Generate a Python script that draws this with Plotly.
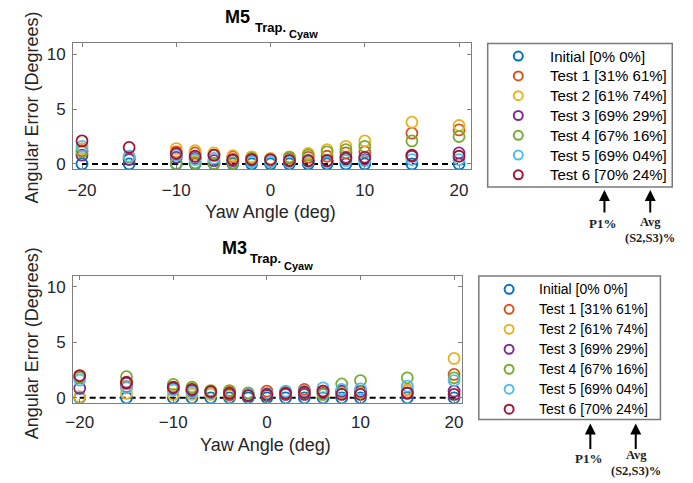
import plotly.graph_objects as go

W, H = 693, 483

yaw = [-20, -15, -10, -8, -6, -4, -2, 0, 2, 4, 6, 8, 10, 15, 20]

labels = ["Initial [0% 0%]", "Test 1 [31% 61%]", "Test 2 [61% 74%]", "Test 3 [69% 29%]",
          "Test 4 [67% 16%]", "Test 5 [69% 04%]", "Test 6 [70% 24%]"]
colors = ["#0072BD", "#D95319", "#EDB120", "#7E2F8E", "#77AC30", "#4DBEEE", "#A2142F"]

# M5 (top panel)
m5_initial = [0, 0, 0, 0, 0, 0, 0, 0, 0, 0, 0, 0, 0, 0, 0]
m5_test1 = [1.2, 0.5, 1.1, 1.0, 0.8, 0.65, 0.5, 0.4, 0.5, 0.6, 0.7, 1.0, 1.1, 2.8, 3.1]
m5_test2 = [1.4, 0.55, 1.4, 1.2, 1.0, 0.75, 0.65, 0.5, 0.65, 0.95, 1.3, 1.6, 2.1, 3.8, 3.5]
m5_test3 = [0.8, 0.4, 0.6, 0.5, 0.3, 0.3, 0.3, 0.3, 0.3, 0.3, 0.3, 0.6, 0.4, 0.7, 1.0]
m5_test4 = [1.1, 0.65, 0.05, 0.1, 0.05, 0.1, 0.5, 0.3, 0.6, 0.8, 1.1, 1.3, 1.6, 2.1, 2.5]
m5_test5 = [1.6, 0.7, 0.8, 0.4, 0.5, 0.4, 0.2, 0.2, 0.2, 0.2, 0.2, 0.3, 0.3, 0.4, 0.4]
m5_test6 = [2.1, 1.5, 0.95, 0.7, 0.8, 0.4, 0.4, 0.4, 0.3, 0.3, 0.3, 0.5, 0.6, 0.8, 0.7]

# M3 (bottom panel)
m3_initial = [0, 0, 0, 0, 0, 0, 0, 0, 0, 0, 0, 0, 0, 0, 0]
m3_test1 = [1.9, 1.0, 0.9, 0.7, 0.6, 0.5, 0.3, 0.6, 0.5, 0.75, 0.6, 0.5, 0.5, 0.7, 2.1]
m3_test2 = [0.1, 0.4, 0.3, 0.3, 0.3, 0.2, 0.2, 0.3, 0.3, 0.3, 0.3, 0.5, 0.4, 0.7, 3.55]
m3_test3 = [0.85, 1.3, 0.8, 0.6, 0.5, 0.3, 0.2, 0.2, 0.3, 0.3, 0.4, 0.6, 0.6, 0.4, 0.6]
m3_test4 = [1.8, 1.9, 1.2, 0.95, 0.65, 0.65, 0.45, 0.3, 0.4, 0.5, 0.3, 1.25, 1.55, 1.8, 1.8]
m3_test5 = [1.6, 0.9, 0.7, 0.5, 0.5, 0.4, 0.3, 0.4, 0.6, 0.6, 0.9, 0.75, 0.8, 1.05, 1.55]
m3_test6 = [2.0, 1.4, 0.95, 0.75, 0.55, 0.4, 0.2, 0.3, 0.4, 0.5, 0.6, 0.3, 0.3, 0.45, 0.3]

m5_series = [m5_initial, m5_test1, m5_test2, m5_test3, m5_test4, m5_test5, m5_test6]
m3_series = [m3_initial, m3_test1, m3_test2, m3_test3, m3_test4, m3_test5, m3_test6]

ref_x = [-20, 20.5]
ref_y = [0, 0]

x_ticks = [-20, -10, 0, 10, 20]
y_ticks = [0, 5, 10]

FONT = "Liberation Sans, Arial, sans-serif"
SERIF = "Liberation Serif, Times New Roman, serif"
AXC = "#262626"


def px(x):
    return x / W


def py(y):
    return 1 - y / H


fig = go.Figure()

for series, xa, ya in [(m5_series, "x", "y"), (m3_series, "x2", "y2")]:
    fig.add_trace(go.Scatter(x=ref_x, y=ref_y, mode="lines", xaxis=xa, yaxis=ya,
                             line=dict(color="black", width=2, dash="6px,4px"),
                             showlegend=False, hoverinfo="skip"))
    for name, col, vals in zip(labels, colors, series):
        fig.add_trace(go.Scatter(x=yaw, y=vals, mode="markers", name=name, xaxis=xa, yaxis=ya,
                                 marker=dict(symbol="circle-open", size=11, color=col,
                                             line=dict(width=1.8, color=col)),
                                 showlegend=False))

axis_common = dict(showline=True, mirror="ticks", linecolor="#7f7f7f", linewidth=1,
                   ticks="inside", ticklen=4, tickcolor="#7f7f7f", showgrid=False,
                   zeroline=False, tickfont=dict(family=FONT, size=17, color=AXC))

fig.update_layout(
    width=W, height=H,
    margin=dict(l=0, r=0, t=0, b=0),
    paper_bgcolor="white", plot_bgcolor="white",
    showlegend=False,
    xaxis=dict(domain=[px(66), px(469)], range=[-20.94, 21.26], tickvals=x_ticks,
               anchor="y", ticklabelstandoff=5, **axis_common),
    yaxis=dict(domain=[py(171), py(43)], range=[-0.48, 11.05], tickvals=y_ticks,
               anchor="x", ticklabelstandoff=3, **axis_common),
    xaxis2=dict(domain=[px(66), px(460)], range=[-20.7, 20.85], tickvals=x_ticks,
                anchor="y2", ticklabelstandoff=4, **axis_common),
    yaxis2=dict(domain=[py(407), py(279)], range=[-0.45, 10.96], tickvals=y_ticks,
                anchor="x2", ticklabelstandoff=3, **axis_common),
)

annotations = []
shapes = []

# Titles
for main, mx, my, tx, ty, cx, cy in [("M5", 233, 17, 248, 28, 283, 34),
                                      ("M3", 229.5, 251, 243, 261, 278, 269)]:
    annotations.append(dict(text="<b>%s</b>" % main, x=px(mx), y=py(my), xref="paper", yref="paper",
                            xanchor="center", yanchor="middle", showarrow=False,
                            font=dict(family=FONT, size=18, color="black")))
    annotations.append(dict(text="<b>Trap.</b>", x=px(tx), y=py(ty), xref="paper", yref="paper",
                            xanchor="left", yanchor="middle", showarrow=False,
                            font=dict(family=FONT, size=13, color="black")))
    annotations.append(dict(text="<b>Cyaw</b>", x=px(cx), y=py(cy), xref="paper", yref="paper",
                            xanchor="left", yanchor="middle", showarrow=False,
                            font=dict(family=FONT, size=11, color="black")))

# Axis titles
for (xx, xy), (yx, yy) in [((266, 214), (24.5, 108.5)), ((261, 450), (24.5, 346.7))]:
    annotations.append(dict(text="Yaw Angle (deg)", x=px(xx), y=py(xy), xref="paper", yref="paper",
                            xanchor="center", yanchor="middle", showarrow=False,
                            font=dict(family=FONT, size=18, color=AXC)))
    annotations.append(dict(text="Angular Error (Degrees)", x=px(yx), y=py(yy), xref="paper",
                            yref="paper", xanchor="center", yanchor="middle", showarrow=False,
                            textangle=-90, font=dict(family=FONT, size=18, color=AXC)))

# Legend boxes (drawn)
legends = [dict(box=(486, 44, 673, 189), mx=517, tx=547, y0=56.7, dy=20.0, fs=15),
           dict(box=(477, 279, 661, 424), mx=507.7, tx=536, y0=292.3, dy=20.2, fs=14)]
for lg in legends:
    x0, y0, x1, y1 = lg["box"]
    shapes.append(dict(type="rect", xref="paper", yref="paper", x0=px(x0), x1=px(x1),
                       y0=py(y1), y1=py(y0), line=dict(color="#7a7a7a", width=1.5),
                       fillcolor="rgba(0,0,0,0)"))
    for i, (name, col) in enumerate(zip(labels, colors)):
        yy = lg["y0"] + i * lg["dy"]
        shapes.append(dict(type="circle", xref="paper", yref="paper", xsizemode="pixel",
                           ysizemode="pixel", xanchor=px(lg["mx"]), yanchor=py(yy),
                           x0=-4.5, x1=4.5, y0=-4.5, y1=4.5, line=dict(color=col, width=2)))
        annotations.append(dict(text=name, x=px(lg["tx"]), y=py(yy), xref="paper", yref="paper",
                                xanchor="left", yanchor="middle", showarrow=False,
                                font=dict(family=FONT, size=lg["fs"], color="black")))

# Arrows with P1% / Avg labels
for a1x, a2x, ytop, ylen, p1y, avgy in [(604.3, 650.7, 192, 24, 226, 232),
                                        (590, 636, 428, 27, 463, 467.5)]:
    for ax_ in (a1x, a2x):
        annotations.append(dict(text="", x=px(ax_), y=py(ytop), xref="paper", yref="paper",
                                ax=0, ay=ylen, showarrow=True, arrowhead=2, arrowsize=1.1,
                                arrowwidth=2, arrowcolor="black"))
    annotations.append(dict(text="<b>P1%</b>", x=px(a1x - 2), y=py(p1y), xref="paper", yref="paper",
                            xanchor="center", yanchor="middle", showarrow=False,
                            font=dict(family=SERIF, size=13, color="#222")))
    annotations.append(dict(text="<b>Avg</b><br><b>(S2,S3)%</b>", x=px(a2x), y=py(avgy),
                            xref="paper", yref="paper", xanchor="center", yanchor="middle",
                            showarrow=False, align="center",
                            font=dict(family=SERIF, size=12.5, color="#222")))

fig.update_layout(annotations=annotations, shapes=shapes)

fig.write_html("out.html")
